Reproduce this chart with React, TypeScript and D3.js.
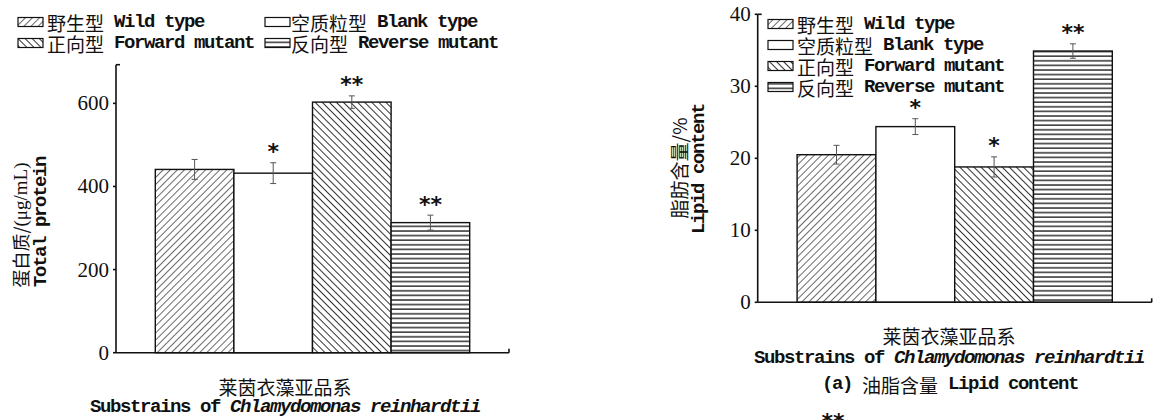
import * as d3 from 'd3';

// categories (zh / en)
const catZh = ['野生型', '空质粒型', '正向型', '反向型'];
const catEn = ['Wild type', 'Blank type', 'Forward mutant', 'Reverse mutant'];
const fills = ['url(#pWild)', '#ffffff', 'url(#pFwd)', 'url(#pRev)'];

// left panel: total protein
const proteinValues = [441, 432, 603, 313];
const proteinErrors = [24, 25, 15, 18];
const proteinSig = ['', '*', '**', '**'];
const proteinTicks = [0, 200, 400, 600];

// right panel: lipid content
const lipidValues = [20.5, 24.4, 18.8, 34.9];
const lipidErrors = [1.3, 1.1, 1.4, 1.0];
const lipidSig = ['', '*', '*', '**'];
const lipidTicks = [0, 10, 20, 30, 40];

const CJK = '"Noto Sans CJK SC", sans-serif';
const MONO = '"Liberation Mono", monospace';
const SERIF = '"Liberation Serif", serif';

// latin text: monospace, tall glyphs squeezed to ~10px advance
const latin = { fontFamily: MONO, fontSize: 19, fontWeight: 'bold' as const, letterSpacing: -1.4 };

function Label({ x, y, zh, en, anchor = 'start', italic, pre }: any) {
  return (
    <text x={x} y={y} textAnchor={anchor} dominantBaseline="central" fill="#111" style={{ whiteSpace: 'pre' }}>
      {pre && <tspan {...latin}>{pre}</tspan>}
      {zh && <tspan fontFamily={CJK} fontSize={19}>{zh}</tspan>}
      {en && <tspan {...latin}>{(zh ? ' ' : '') + en}</tspan>}
      {italic && <tspan {...latin} fontStyle="italic">{italic}</tspan>}
    </text>
  );
}

function Panel({ values, errors, sig, ticks, x0, x1, yTop, yBase, yMax }: any) {
  const x = d3.scaleBand<number>().domain(d3.range(values.length)).range([x0, x1]).paddingInner(0).paddingOuter(0.5);
  const y = d3.scaleLinear().domain([0, yMax]).range([yBase, yTop]);
  return (
    <g>
      {values.map((v: number, i: number) => (
        <rect key={i} x={x(i)} y={y(v)} width={x.bandwidth()} height={yBase - y(v)}
          fill={fills[i]} stroke="#111" strokeWidth={1.4} />
      ))}
      {values.map((v: number, i: number) => {
        const cx = x(i)! + x.bandwidth() / 2;
        const hi = y(v + errors[i]);
        const lo = y(v - errors[i]);
        return (
          <g key={i} stroke="#555" strokeWidth={1}>
            <line x1={cx} x2={cx} y1={hi} y2={lo} />
            <line x1={cx - 3} x2={cx + 3} y1={hi} y2={hi} />
            <line x1={cx - 3} x2={cx + 3} y1={lo} y2={lo} />
          </g>
        );
      })}
      {values.map((v: number, i: number) => (
        <text key={i} x={x(i)! + x.bandwidth() / 2} y={y(v + errors[i]) - 3.5} textAnchor="middle"
          fontFamily='"DejaVu Sans", sans-serif' fontWeight="bold" fontSize={22} fill="#111">{sig[i]}</text>
      ))}
      {/* axes */}
      <g stroke="#111" strokeWidth={1.6} fill="none">
        <line x1={x0} x2={x0} y1={yTop} y2={yBase} />
        <line x1={x0} x2={x0 + 4} y1={yTop} y2={yTop} />
        <line x1={x0} x2={x1} y1={yBase} y2={yBase} />
        <line x1={x1} x2={x1} y1={yBase} y2={yBase - 4} />
        {ticks.map((t: number) => (
          <line key={t} x1={x0 - 3} x2={x0} y1={y(t)} y2={y(t)} />
        ))}
      </g>
      {ticks.map((t: number) => (
        <text key={t} x={x0 - 7} y={y(t)} textAnchor="end" dominantBaseline="central"
          fontFamily={SERIF} fontSize={21} fill="#111">{t}</text>
      ))}
    </g>
  );
}

function Swatch({ x, y, i }: any) {
  return <rect x={x} y={y - 4.5} width={25} height={9} fill={fills[i]} stroke="#111" strokeWidth={1.2} />;
}

export default function App() {
  const leftLegend = [
    { i: 0, sx: 18, tx: 47, y: 22 },
    { i: 1, sx: 265, tx: 291, y: 22 },
    { i: 2, sx: 18, tx: 47, y: 43 },
    { i: 3, sx: 265, tx: 291, y: 43 },
  ];
  const rightLegendY = [24, 45, 66, 87];
  return (
    <div style={{ position: 'absolute', left: 0, top: 0 }}>
      <svg width={1168} height={420} style={{ display: 'block', background: '#fff' }}>
        <defs>
          <pattern id="pWild" patternUnits="userSpaceOnUse" width={5} height={5} patternTransform="rotate(45)">
            <rect width={5} height={5} fill="#fff" />
            <line x1={0} y1={0} x2={0} y2={5} stroke="#444" strokeWidth={1.6} />
          </pattern>
          <pattern id="pFwd" patternUnits="userSpaceOnUse" width={5} height={5} patternTransform="rotate(-45)">
            <rect width={5} height={5} fill="#fff" />
            <line x1={0} y1={0} x2={0} y2={5} stroke="#333" strokeWidth={2} />
          </pattern>
          <pattern id="pRev" patternUnits="userSpaceOnUse" width={6} height={4.6}>
            <rect width={6} height={4.6} fill="#fff" />
            <line x1={0} y1={1} x2={6} y2={1} stroke="#222" strokeWidth={1.4} />
          </pattern>
        </defs>

        {/* left panel */}
        {leftLegend.map((d) => (
          <g key={d.i}>
            <Swatch x={d.sx} y={d.y} i={d.i} />
            <Label x={d.tx} y={d.y} zh={catZh[d.i]} en={catEn[d.i]} />
          </g>
        ))}
        <Panel values={proteinValues} errors={proteinErrors} sig={proteinSig} ticks={proteinTicks}
          x0={116} x1={509} yTop={64.7} yBase={352.7} yMax={693} />
        <g transform="translate(20,225) rotate(-90)">
          <text textAnchor="middle" dominantBaseline="central" fill="#111">
            <tspan fontFamily={CJK} fontSize={18}>蛋白质/</tspan>
            <tspan fontFamily={SERIF} fontSize={19}>(μg/mL)</tspan>
          </text>
        </g>
        <g transform="translate(41,222) rotate(-90)">
          <Label x={0} y={0} en="Total protein" anchor="middle" />
        </g>
        <Label x={285} y={386} zh="莱茵衣藻亚品系" anchor="middle" />
        <Label x={285} y={407} en="Substrains of " italic="Chlamydomonas reinhardtii" anchor="middle" />

        {/* right panel */}
        <Panel values={lipidValues} errors={lipidErrors} sig={lipidSig} ticks={lipidTicks}
          x0={757.7} x1={1151.7} yTop={14.3} yBase={302.3} yMax={40} />
        {rightLegendY.map((yy, i) => (
          <g key={i}>
            <Swatch x={768} y={yy} i={i} />
            <Label x={797} y={yy} zh={catZh[i]} en={catEn[i]} />
          </g>
        ))}
        <g transform="translate(678,168) rotate(-90)">
          <Label x={0} y={0} zh="脂肪含量/%" anchor="middle" />
        </g>
        <g transform="translate(699,169) rotate(-90)">
          <Label x={0} y={0} en="Lipid content" anchor="middle" />
        </g>
        <Label x={949} y={335} zh="莱茵衣藻亚品系" anchor="middle" />
        <Label x={949} y={358} en="Substrains of " italic="Chlamydomonas reinhardtii" anchor="middle" />
        <Label x={950} y={384} pre="(a) " zh="油脂含量" en="Lipid content" anchor="middle" />
        <text x={833} y={429} textAnchor="middle" fontFamily='"DejaVu Sans", sans-serif'
          fontWeight="bold" fontSize={22} fill="#111">**</text>
      </svg>
    </div>
  );
}
